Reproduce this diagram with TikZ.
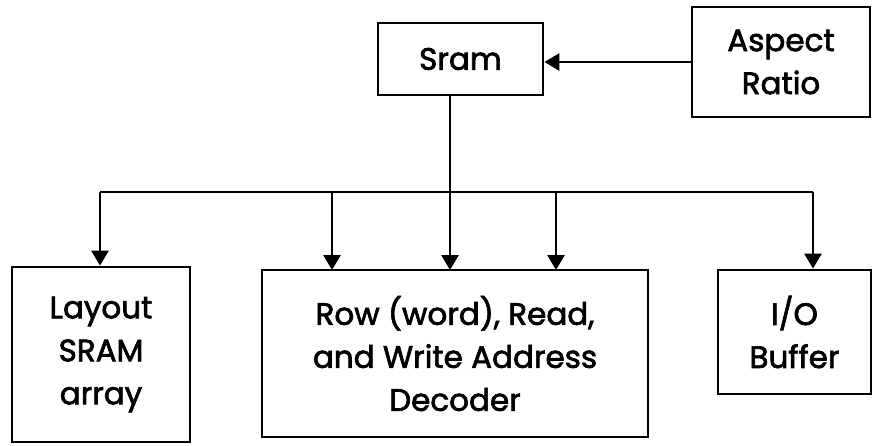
\documentclass[tikz,border=0pt]{standalone}
\usepackage{fontspec}
\setmainfont{Poppins}
\newfontfamily\medf{Poppins}[UprightFeatures={FakeBold=2.2}]
\usetikzlibrary{arrows.meta}
\begin{document}
\begin{tikzpicture}[x=1pt,y=-1pt,
  box/.style={draw,line width=2.8pt,inner sep=0pt,align=center,font=\medf\fontsize{31}{43}\selectfont},
  conn/.style={line width=2.8pt},
  arr/.style={conn,-{Triangle[width=17pt,length=15pt]}}]
\useasboundingbox (0,0) rectangle (872,445);
\node[box,minimum width=165pt,minimum height=72pt] (sram) at (460.5,59) {Sram};
\node[box,minimum width=178pt,minimum height=110pt] (asp) at (781,62) {Aspect\\Ratio};
\node[box,minimum width=178pt,minimum height=175pt] (lay) at (101,354.5) {Layout\\SRAM\\array};
\node[box,minimum width=386pt,minimum height=167pt] (dec) at (455,353.5) {Row (word), Read,\\and Write Address\\Decoder};
\node[box,minimum width=153pt,minimum height=124pt] (io) at (794.5,332) {I/O\\Buffer};
\coordinate (bl) at (100,192);
\coordinate (br) at (813,192);
\draw[arr] (asp.west |- 0,62) -- (sram.east |- 0,62);
\draw[conn] (450,95) -- (450,192);
\draw[conn] (bl) -- (br);
\draw[arr] (bl) -- (bl |- lay.north);
\draw[arr] (332,192) -- (332,270);
\draw[arr] (450,192) -- (450,270);
\draw[arr] (556,192) -- (556,270);
\draw[arr] (br) -- (br |- io.north);
\end{tikzpicture}
\end{document}
